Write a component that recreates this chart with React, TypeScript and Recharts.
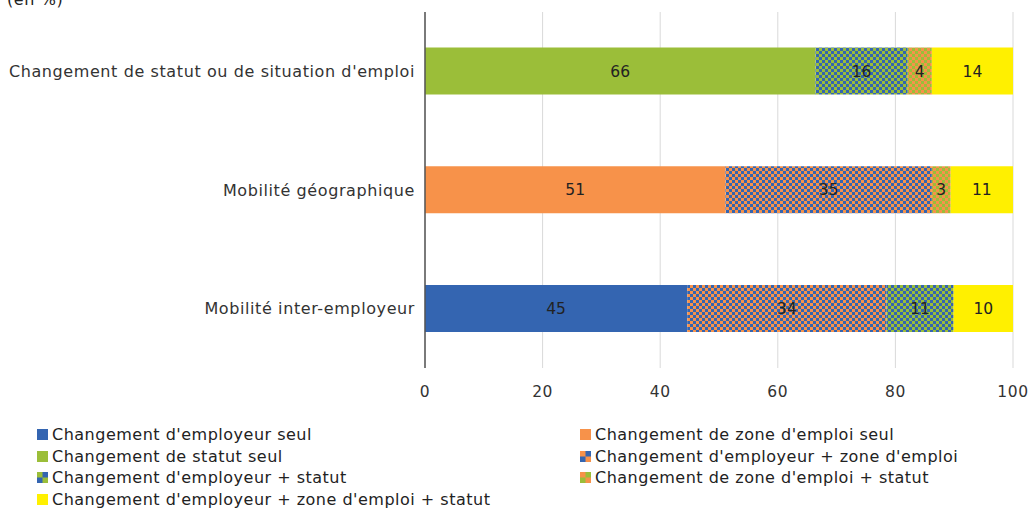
import React from 'react';
import { BarChart, Bar, XAxis, YAxis, CartesianGrid, LabelList } from 'recharts';

const categories = [
  "Changement de statut ou de situation d'emploi",
  'Mobilité géographique',
  'Mobilité inter-employeur',
];

// parts in %, one value per category (top to bottom)
const employeurSeul = [0, 0, 44.6];
const zoneSeul = [0, 51.1, 0];
const statutSeul = [66.4, 0, 0];
const employeurZone = [0, 35.1, 33.9];
const employeurStatut = [15.7, 0, 11.4];
const zoneStatut = [4.1, 3.2, 0];
const lesTrois = [13.8, 10.6, 10.1];

const xTicks = [0, 20, 40, 60, 80, 100];

const BLUE = '#3465b1';
const ORANGE = '#f7924a';
const GREEN = '#9bbe39';
const YELLOW = '#fff000';

const SERIES = [
  { key: 'employeurSeul', name: "Changement d'employeur seul", fill: BLUE, a: BLUE, b: BLUE },
  { key: 'zoneSeul', name: "Changement de zone d'emploi seul", fill: ORANGE, a: ORANGE, b: ORANGE },
  { key: 'statutSeul', name: 'Changement de statut seul', fill: GREEN, a: GREEN, b: GREEN },
  { key: 'employeurZone', name: "Changement d'employeur + zone d'emploi", fill: 'url(#chkBO)', a: ORANGE, b: BLUE },
  { key: 'employeurStatut', name: "Changement d'employeur + statut", fill: 'url(#chkBG)', a: GREEN, b: BLUE },
  { key: 'zoneStatut', name: "Changement de zone d'emploi + statut", fill: 'url(#chkOG)', a: ORANGE, b: GREEN },
  { key: 'lesTrois', name: "Changement d'employeur + zone d'emploi + statut", fill: YELLOW, a: YELLOW, b: YELLOW },
];

const data = categories.map((c, i) => ({
  name: c,
  employeurSeul: employeurSeul[i],
  zoneSeul: zoneSeul[i],
  statutSeul: statutSeul[i],
  employeurZone: employeurZone[i],
  employeurStatut: employeurStatut[i],
  zoneStatut: zoneStatut[i],
  lesTrois: lesTrois[i],
}));

const FONT = "'DejaVu Sans', sans-serif";

function Checker({ id, a, b }: { id: string; a: string; b: string }) {
  return (
    <pattern id={id} width="6" height="6" patternUnits="userSpaceOnUse">
      <rect width="6" height="6" fill={a} />
      <rect x="0" y="0" width="3" height="3" fill={b} />
      <rect x="3" y="3" width="3" height="3" fill={b} />
    </pattern>
  );
}

function LegendIcon({ a, b }: { a: string; b: string }) {
  return (
    <svg width="11" height="11" style={{ marginRight: 4, flex: 'none' }}>
      <rect width="11" height="11" fill={a} />
      <rect x="0" y="5.5" width="5.5" height="5.5" fill={b} />
      <rect x="5.5" y="0" width="5.5" height="5.5" fill={b} />
    </svg>
  );
}

export default function App() {
  return (
    <div style={{ position: 'absolute', left: 0, top: 0, width: 1030, height: 514, background: '#fff', fontFamily: FONT, color: '#222', overflow: 'hidden' }}>
      <svg width="0" height="0" style={{ position: 'absolute' }}>
        <defs>
          <Checker id="chkBO" a={ORANGE} b={BLUE} />
          <Checker id="chkBG" a={GREEN} b={BLUE} />
          <Checker id="chkOG" a={ORANGE} b={GREEN} />
        </defs>
      </svg>
      <div style={{ position: 'absolute', left: 7, top: -10, fontSize: 16, letterSpacing: 0.6 }}>(en %)</div>
      <BarChart
        width={1030}
        height={410}
        data={data}
        layout="vertical"
        margin={{ top: 12, right: 17, left: 0, bottom: 12 }}
        barCategoryGap="30%"
      >
        <CartesianGrid horizontal={false} stroke="#d9d9d9" />
        <XAxis
          type="number"
          domain={[0, 100]}
          ticks={xTicks}
          axisLine={false}
          tickLine={false}
          tickMargin={12}
          height={30}
          tick={{ fontSize: 15.5, fill: '#333', fontFamily: FONT, style: { letterSpacing: 0.6 } }}
        />
        <YAxis
          type="category"
          dataKey="name"
          width={425}
          tickLine={false}
          axisLine={{ stroke: '#555', strokeWidth: 1.5 }}
          tickMargin={4}
          tick={{ fontSize: 16, fill: '#333', fontFamily: FONT, style: { letterSpacing: 0.6 } }}
        />
        {SERIES.map((s) => (
          <Bar key={s.key} dataKey={s.key} name={s.name} stackId="a" fill={s.fill} isAnimationActive={false}>
            <LabelList
              dataKey={s.key}
              position="center"
              fill="#222"
              fontSize={15.5}
              fontFamily={FONT}
              formatter={(v: any) => (v ? String(Math.round(Number(v))) : '')}
            />
          </Bar>
        ))}
      </BarChart>
      <div style={{ position: 'absolute', left: 37, top: 424, width: 1000, display: 'grid', gridTemplateColumns: '543px 450px', rowGap: 0, fontSize: 16, letterSpacing: 0.5, lineHeight: '21.5px' }}>
        {SERIES.map((s) => (
          <div key={s.key} style={{ display: 'flex', alignItems: 'center', whiteSpace: 'nowrap' }}>
            <LegendIcon a={s.a} b={s.b} />
            <span>{s.name}</span>
          </div>
        ))}
      </div>
    </div>
  );
}
